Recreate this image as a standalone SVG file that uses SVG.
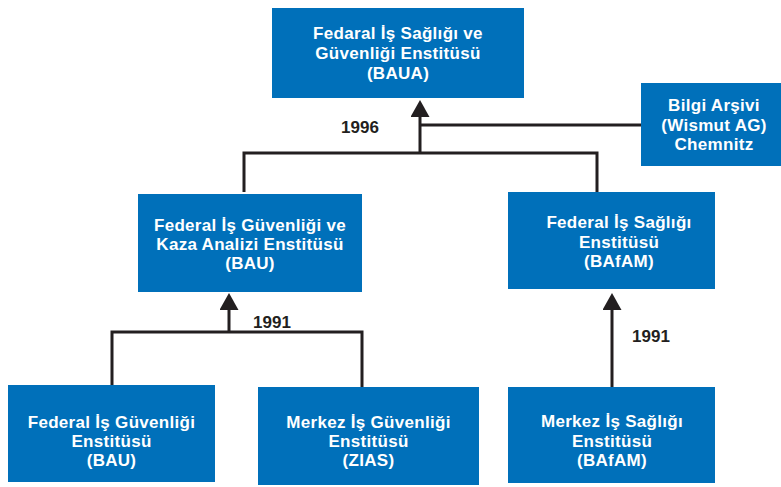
<svg xmlns="http://www.w3.org/2000/svg" width="781" height="487" viewBox="0 0 781 487">
<defs>
<style>
.box{fill:#0070BA}
.t{font-family:"Liberation Sans",Arial,sans-serif;font-weight:bold;font-size:17px;fill:#FFFFFF;text-anchor:middle;letter-spacing:0.3px}
.lbl{font-family:"Liberation Sans",Arial,sans-serif;font-weight:bold;font-size:17px;fill:#231F20;text-anchor:middle}
.c{fill:none;stroke:#231F20;stroke-width:3}
</style>
<marker id="ah" markerUnits="userSpaceOnUse" markerWidth="18" markerHeight="20" refX="0" refY="9.5" orient="auto" viewBox="0 0 18 20">
<path d="M0,0 L17,9.5 L0,19 Z" fill="#231F20"/>
</marker>
</defs>
<rect width="781" height="487" fill="#FFFFFF"/>
<g id="connectors">
<path class="c" d="M244,192 V153 H597 V192"/>
<path class="c" d="M420,125 H641"/>
<path class="c" d="M420,153 V117" marker-end="url(#ah)"/>
<path class="c" d="M112,385 V332 H362 V387"/>
<path class="c" d="M229,332 V310" marker-end="url(#ah)"/>
<path class="c" d="M612,387 V310" marker-end="url(#ah)"/>
<text class="lbl" x="360" y="133">1996</text>
<text class="lbl" x="272" y="328">1991</text>
<text class="lbl" x="651" y="342">1991</text>
</g>
<g id="baua">
<rect class="box" x="272" y="8" width="252" height="90"/>
<text class="t" x="398" y="39">Fedaral İş Sağlığı ve</text>
<text class="t" x="398" y="59">Güvenliği Enstitüsü</text>
<text class="t" x="398" y="79">(BAUA)</text>
</g>
<g id="bilgi">
<rect class="box" x="641" y="83" width="145" height="83"/>
<text class="t" x="714" y="111">Bilgi Arşivi</text>
<text class="t" x="714" y="131">(Wismut AG)</text>
<text class="t" x="714" y="150">Chemnitz</text>
</g>
<g id="bau-mid">
<rect class="box" x="138" y="194" width="224" height="98"/>
<text class="t" x="250" y="231">Federal İş Güvenliği ve</text>
<text class="t" x="250" y="250">Kaza Analizi Enstitüsü</text>
<text class="t" x="250" y="269">(BAU)</text>
</g>
<g id="bafam-mid">
<rect class="box" x="508" y="192" width="207" height="97"/>
<text class="t" x="619" y="228">Federal İş Sağlığı</text>
<text class="t" x="619" y="248">Enstitüsü</text>
<text class="t" x="619" y="267">(BAfAM)</text>
</g>
<g id="bau-bottom">
<rect class="box" x="8" y="385" width="207" height="97"/>
<text class="t" x="111.5" y="428">Federal İş Güvenliği</text>
<text class="t" x="111.5" y="447">Enstitüsü</text>
<text class="t" x="111.5" y="466">(BAU)</text>
</g>
<g id="zias">
<rect class="box" x="258" y="387" width="221" height="98"/>
<text class="t" x="368.5" y="428">Merkez İş Güvenliği</text>
<text class="t" x="368.5" y="447">Enstitüsü</text>
<text class="t" x="368.5" y="466">(ZIAS)</text>
</g>
<g id="bafam-bottom">
<rect class="box" x="508" y="387" width="207" height="96"/>
<text class="t" x="612" y="427">Merkez İş Sağlığı</text>
<text class="t" x="612" y="447">Enstitüsü</text>
<text class="t" x="612" y="466">(BAfAM)</text>
</g>
</svg>
